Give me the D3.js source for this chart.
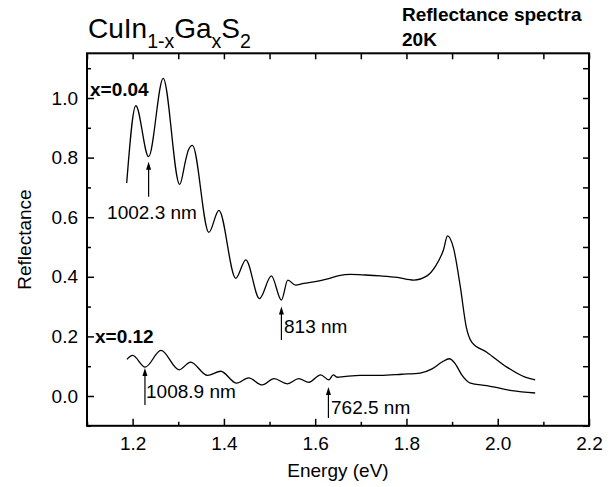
<!DOCTYPE html>
<html>
<head>
<meta charset="utf-8">
<script src="https://cdn.jsdelivr.net/npm/d3@7"></script>
<style>
  html, body { margin: 0; padding: 0; background: #fff; }
  svg { display: block; font-family: "Liberation Sans", Arial, sans-serif; }
</style>
</head>
<body>
<svg id="chart" width="616" height="487"></svg>
<script>
// ---- data ----
const energyX004 = [1.187, 1.207, 1.235, 1.267, 1.303, 1.316, 1.322, 1.331, 1.367, 1.389, 1.426, 1.448, 1.478, 1.504, 1.526, 1.540, 1.557, 1.575, 1.597, 1.625, 1.652, 1.677, 1.710, 1.743, 1.780, 1.816, 1.845, 1.863, 1.881, 1.890, 1.903, 1.918, 1.931, 1.943, 1.976, 2.020, 2.060, 2.082];
const reflX004   = [0.715, 0.974, 0.803, 1.066, 0.710, 0.790, 0.825, 0.841, 0.549, 0.623, 0.395, 0.457, 0.327, 0.403, 0.322, 0.389, 0.372, 0.378, 0.383, 0.392, 0.404, 0.408, 0.406, 0.403, 0.398, 0.389, 0.403, 0.434, 0.490, 0.537, 0.497, 0.367, 0.232, 0.181, 0.147, 0.097, 0.063, 0.054];

const energyX012 = [1.1875, 1.200, 1.2275, 1.262, 1.302, 1.327, 1.364, 1.393, 1.428, 1.454, 1.484, 1.510, 1.539, 1.564, 1.586, 1.612, 1.630, 1.6395, 1.648, 1.663, 1.699, 1.743, 1.790, 1.830, 1.856, 1.878, 1.894, 1.907, 1.922, 1.940, 1.976, 2.031, 2.082];
const reflX012   = [0.123, 0.136, 0.097, 0.153, 0.088, 0.114, 0.069, 0.083, 0.043, 0.061, 0.037, 0.058, 0.041, 0.058, 0.046, 0.071, 0.054, 0.071, 0.063, 0.065, 0.069, 0.069, 0.073, 0.077, 0.091, 0.114, 0.125, 0.108, 0.069, 0.043, 0.035, 0.018, 0.010];

const xMajorTicks = [1.2, 1.4, 1.6, 1.8, 2.0, 2.2];
const xMinorTicks = [1.1, 1.3, 1.5, 1.7, 1.9, 2.1];
const yMajorTicks = [0.0, 0.2, 0.4, 0.6, 0.8, 1.0];
const yMinorTicks = [-0.1, 0.1, 0.3, 0.5, 0.7, 0.9, 1.1];

const seriesLabels = ["x=0.04", "x=0.12"];
const markLabels   = ["1002.3 nm", "813 nm", "1008.9 nm", "762.5 nm"];
const markEnergy   = [1.235, 1.526, 1.227, 1.629];
const markTipR     = [0.786, 0.300, 0.094, 0.030];
const markBaseR    = [0.669, 0.188, -0.030, -0.074];

// ---- layout ----
const svg = d3.select("#chart");
const L = 87, R = 589, T = 53.3, B = 425.8;
const x = d3.scaleLinear().domain([1.1, 2.2]).range([L, R]);
const y = d3.scaleLinear().domain([-0.1, 1.15]).range([B, T]);
const FS = 19;

// axes frame
svg.append("rect").attr("x", L).attr("y", T).attr("width", R - L).attr("height", B - T)
  .attr("fill", "none").attr("stroke", "#000").attr("stroke-width", 2);

// bottom axis
const gBottom = svg.append("g").attr("transform", `translate(0,${B})`);
gBottom.call(d3.axisBottom(x).tickValues(xMajorTicks).tickSizeInner(-7).tickSizeOuter(0)
  .tickPadding(11).tickFormat(d3.format(".1f")));
gBottom.append("g").call(d3.axisBottom(x).tickValues(xMinorTicks).tickSizeInner(-4).tickSizeOuter(0).tickFormat(""));
// top axis
const gTop = svg.append("g").attr("transform", `translate(0,${T})`);
gTop.call(d3.axisTop(x).tickValues(xMajorTicks.concat(xMinorTicks)).tickSizeInner(-6).tickSizeOuter(0).tickFormat(""));
// left axis
const gLeft = svg.append("g").attr("transform", `translate(${L},0)`);
gLeft.call(d3.axisLeft(y).tickValues(yMajorTicks).tickSizeInner(-7).tickSizeOuter(0)
  .tickPadding(9).tickFormat(d3.format(".1f")));
gLeft.append("g").call(d3.axisLeft(y).tickValues(yMinorTicks).tickSizeInner(-4).tickSizeOuter(0).tickFormat(""));
// right axis
const gRight = svg.append("g").attr("transform", `translate(${R},0)`);
gRight.call(d3.axisRight(y).tickValues(yMajorTicks.concat(yMinorTicks)).tickSizeInner(-6).tickSizeOuter(0).tickFormat(""));

svg.selectAll(".domain").remove();
svg.selectAll(".tick line").attr("stroke", "#000").attr("stroke-width", 1.5);
svg.selectAll(".tick text").attr("font-size", FS).attr("fill", "#000")
  .attr("font-family", "Liberation Sans, Arial, sans-serif");

// axis titles
svg.append("text").attr("x", (L + R) / 2).attr("y", 477).attr("text-anchor", "middle")
  .attr("font-size", FS).text("Energy (eV)");
svg.append("text").attr("transform", `translate(31,${(T + B) / 2}) rotate(-90)`)
  .attr("text-anchor", "middle").attr("font-size", FS).text("Reflectance");

// curves
const line = d3.line().x(d => x(d[0])).y(d => y(d[1])).curve(d3.curveMonotoneX);
const s1 = energyX004.map((e, i) => [e, reflX004[i]]);
const s2 = energyX012.map((e, i) => [e, reflX012[i]]);
[s1, s2].forEach(s => {
  svg.append("path").datum(s).attr("d", line).attr("fill", "none")
    .attr("stroke", "#000").attr("stroke-width", 1.3);
});

// series labels
svg.append("text").attr("x", 90).attr("y", 96).attr("font-size", FS).attr("font-weight", "bold").text(seriesLabels[0]);
svg.append("text").attr("x", 95).attr("y", 343).attr("font-size", FS).attr("font-weight", "bold").text(seriesLabels[1]);

// arrows + annotations
const labelPos = [[152, 219, "middle"], [284, 333, "start"], [146, 398, "start"], [331, 414, "start"]];
markLabels.forEach((lab, i) => {
  const ax = x(markEnergy[i]);
  const yt = y(markTipR[i]), yb = y(markBaseR[i]);
  svg.append("line").attr("x1", ax).attr("x2", ax).attr("y1", yt + 5).attr("y2", yb)
    .attr("stroke", "#000").attr("stroke-width", 1.2);
  svg.append("path").attr("d", `M${ax},${yt} L${ax - 2.5},${yt + 8} L${ax + 2.5},${yt + 8} Z`).attr("fill", "#000");
  svg.append("text").attr("x", labelPos[i][0]).attr("y", labelPos[i][1])
    .attr("text-anchor", labelPos[i][2]).attr("font-size", FS).text(lab);
});

// title
const title = svg.append("text").attr("x", 88).attr("y", 38).attr("font-size", 28);
title.append("tspan").text("CuIn");
title.append("tspan").attr("dy", 10).attr("font-size", 19.5).text("1-x");
title.append("tspan").attr("dy", -10).text("Ga");
title.append("tspan").attr("dy", 10).attr("font-size", 19.5).text("x");
title.append("tspan").attr("dy", -10).text("S");
title.append("tspan").attr("dy", 10).attr("font-size", 19.5).text("2");

svg.append("text").attr("x", 402).attr("y", 21).attr("font-size", 19).attr("font-weight", "bold").text("Reflectance spectra");
svg.append("text").attr("x", 402).attr("y", 46).attr("font-size", 19).attr("font-weight", "bold").text("20K");
</script>
</body>
</html>
